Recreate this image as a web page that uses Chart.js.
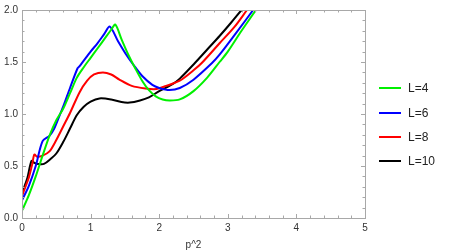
<!DOCTYPE html>
<html>
<head>
<meta charset="utf-8">
<script src="https://cdn.jsdelivr.net/npm/chart.js@4.4.1/dist/chart.umd.min.js"></script>
<style>
    html, body { margin: 0; padding: 0; background: #fff; }
    #wrap { position: relative; width: 458px; height: 251px; }
    #legend { position: absolute; left: 379px; top: 0; font-family: 'Liberation Sans', Arial, sans-serif; font-size: 12px; color: #222; }
    .item { position: absolute; left: 0; width: 80px; height: 14px; }
    .swatch { position: absolute; left: 0; top: 6px; width: 22px; height: 2px; }
    .label { position: absolute; left: 29px; top: 0; line-height: 14px; white-space: nowrap; }
</style>
</head>
<body>
<div id="wrap">
    <canvas id="chart"></canvas>
    <div id="legend"></div>
</div>
<script>
// ---- data (x = p^2) ----
const seriesLabels = ['L=4', 'L=6', 'L=8', 'L=10'];
const seriesColors = ['#00f000', '#0000ff', '#ff0000', '#000000'];

const xL4 = [0, 0.1, 0.2, 0.3, 0.4, 0.5, 0.6, 0.7, 0.8, 0.9, 1.0, 1.1, 1.2, 1.3, 1.36, 1.45, 1.55, 1.65, 1.76, 1.85, 1.95, 2.05, 2.15, 2.3, 2.5, 2.7, 2.88, 3.0, 3.2, 3.41, 3.5];
const yL4 = [0.07, 0.22, 0.40, 0.60, 0.79, 0.94, 1.05, 1.20, 1.35, 1.45, 1.54, 1.63, 1.72, 1.81, 1.86, 1.72, 1.57, 1.44, 1.31, 1.23, 1.17, 1.14, 1.13, 1.14, 1.22, 1.35, 1.50, 1.60, 1.80, 2.0, 2.09];

const xL6 = [0, 0.1, 0.2, 0.3, 0.4, 0.47, 0.55, 0.6, 0.7, 0.81, 0.84, 1.0, 1.1, 1.2, 1.28, 1.4, 1.54, 1.65, 1.76, 1.9, 2.0, 2.15, 2.3, 2.5, 2.77, 2.88, 3.1, 3.37, 3.45];
const yL6 = [0.17, 0.31, 0.50, 0.74, 0.79, 0.86, 0.99, 1.07, 1.25, 1.44, 1.46, 1.60, 1.68, 1.77, 1.84, 1.70, 1.55, 1.45, 1.36, 1.28, 1.25, 1.23, 1.25, 1.33, 1.49, 1.57, 1.76, 2.0, 2.07];

const xL8 = [0, 0.05, 0.1, 0.15, 0.18, 0.22, 0.3, 0.4, 0.5, 0.6, 0.7, 0.84, 0.95, 1.05, 1.18, 1.3, 1.42, 1.6, 1.8, 1.96, 2.1, 2.3, 2.5, 2.62, 2.88, 3.1, 3.28, 3.35];
const yL8 = [0.21, 0.30, 0.39, 0.52, 0.61, 0.59, 0.60, 0.64, 0.75, 0.88, 1.01, 1.21, 1.32, 1.38, 1.40, 1.38, 1.33, 1.27, 1.245, 1.24, 1.27, 1.32, 1.42, 1.49, 1.68, 1.84, 2.0, 2.06];

const xL10 = [0, 0.05, 0.08, 0.14, 0.18, 0.23, 0.32, 0.42, 0.5, 0.6, 0.7, 0.8, 0.9, 1.0, 1.13, 1.3, 1.45, 1.57, 1.72, 1.85, 2.0, 2.2, 2.3, 2.52, 2.7, 2.88, 3.05, 3.2, 3.28];
const yL10 = [0.23, 0.33, 0.39, 0.55, 0.53, 0.52, 0.52, 0.57, 0.62, 0.73, 0.86, 0.99, 1.07, 1.12, 1.15, 1.14, 1.115, 1.11, 1.13, 1.16, 1.22, 1.29, 1.34, 1.49, 1.62, 1.75, 1.88, 2.0, 2.06];

const xTicks = [0, 1, 2, 3, 4, 5];
const yTicks = [0.0, 0.5, 1.0, 1.5, 2.0];
const xTitle = 'p^2';

const seriesX = [xL4, xL6, xL8, xL10];
const seriesY = [yL4, yL6, yL8, yL10];

const FONT = "'Liberation Sans', Arial, sans-serif";
const FRAME = '#a8a8a8';

// Mathematica-like frame with inward ticks on all four sides
const frameTicks = {
    id: 'frameTicks',
    afterDatasetsDraw(chart) {
        const { ctx, chartArea: a, scales: { x, y } } = chart;
        ctx.save();
        ctx.strokeStyle = FRAME;
        ctx.lineWidth = 1;
        ctx.strokeRect(Math.round(a.left) + 0.5, Math.round(a.top) + 0.5,
            Math.round(a.right - a.left), Math.round(a.bottom - a.top));
        ctx.beginPath();
        const xStep = 0.2, yStep = 0.1;
        for (let i = 0; i <= Math.round((x.max - x.min) / xStep); i++) {
            const v = x.min + i * xStep;
            const major = Math.abs(v - Math.round(v)) < 1e-6;
            const len = major ? 4 : 2.5;
            const px = Math.round(x.getPixelForValue(v)) + 0.5;
            ctx.moveTo(px, a.bottom); ctx.lineTo(px, a.bottom - len);
            ctx.moveTo(px, a.top); ctx.lineTo(px, a.top + len);
        }
        for (let i = 0; i <= Math.round((y.max - y.min) / yStep); i++) {
            const v = y.min + i * yStep;
            const major = Math.abs(v * 2 - Math.round(v * 2)) < 1e-6;
            const len = major ? 4 : 2.5;
            const py = Math.round(y.getPixelForValue(v)) + 0.5;
            ctx.moveTo(a.left, py); ctx.lineTo(a.left + len, py);
            ctx.moveTo(a.right, py); ctx.lineTo(a.right - len, py);
        }
        ctx.stroke();
        ctx.restore();
    }
};

const datasets = seriesLabels.map((label, i) => ({
    label,
    data: seriesX[i].map((v, j) => ({ x: v, y: seriesY[i][j] })),
    borderColor: seriesColors[i],
    backgroundColor: seriesColors[i],
    borderWidth: 2,
    showLine: true,
    pointRadius: 0,
    tension: 0.3,
    fill: false,
}));

new Chart(document.getElementById('chart'), {
    type: 'scatter',
    data: { datasets },
    options: {
        responsive: true,
        maintainAspectRatio: false,
        animation: false,
        layout: { padding: { top: 6, right: 93, left: 0, bottom: 0 } },
        plugins: {
            legend: { display: false },
            tooltip: { enabled: false },
        },
        scales: {
            x: {
                type: 'linear',
                min: 0,
                max: 5,
                afterBuildTicks: s => { s.ticks = xTicks.map(v => ({ value: v })); },
                afterFit: s => { s.height = 33; },
                grid: { display: false, drawTicks: false },
                border: { display: false },
                ticks: {
                    color: '#333',
                    font: { family: FONT, size: 10 },
                    padding: 4,
                    maxRotation: 0,
                    callback: v => String(v),
                },
                title: {
                    display: true,
                    text: xTitle,
                    color: '#333',
                    font: { family: FONT, size: 10 },
                    padding: { top: 0, bottom: 0 },
                },
            },
            y: {
                type: 'linear',
                min: 0,
                max: 2,
                afterBuildTicks: s => { s.ticks = yTicks.map(v => ({ value: v })); },
                afterFit: s => { s.width = 22; },
                grid: { display: false, drawTicks: false },
                border: { display: false },
                ticks: {
                    color: '#333',
                    font: { family: FONT, size: 10 },
                    padding: 4,
                    callback: v => v.toFixed(1),
                },
            },
        },
    },
    plugins: [frameTicks],
});

// legend (right side)
const legendTops = [81, 106, 130, 154];
const legend = document.getElementById('legend');
seriesLabels.forEach((label, i) => {
    const item = document.createElement('div');
    item.className = 'item';
    item.style.top = legendTops[i] + 'px';
    item.innerHTML = '<div class="swatch" style="background:' + seriesColors[i] + '"></div>' +
        '<div class="label">' + label + '</div>';
    legend.appendChild(item);
});
</script>
</body>
</html>
